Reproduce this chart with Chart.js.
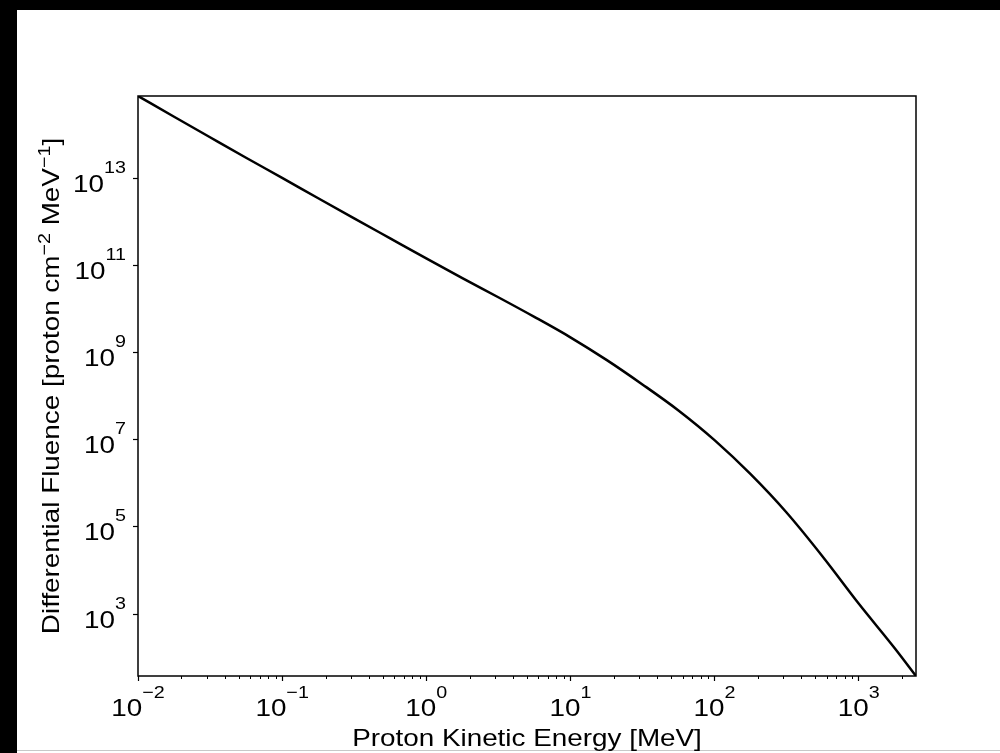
<!DOCTYPE html>
<html>
<head>
<meta charset="utf-8">
<script src="https://cdn.jsdelivr.net/npm/chart.js@4/dist/chart.umd.min.js"></script>
<style>
  html, body { margin: 0; padding: 0; background: #000; overflow: hidden; }
  #paper { position: absolute; left: 17px; top: 10px; width: 983px; height: 743px; background: #fff;
           box-shadow: -1px -1px 3px rgba(0,0,0,0.6); }
  #edge { position: absolute; left: 17px; top: 750px; width: 983px; height: 1px; background: #c8c8c8; }
  #chart { position: absolute; left: 0; top: 0; }
</style>
</head>
<body>
<div id="paper"></div>
<div id="edge"></div>
<canvas id="chart" width="1000" height="753"></canvas>
<script>
'use strict'

// values (quarter-decade steps in energy)
const energyMeV = [0.01, 0.0178, 0.0316, 0.0562, 0.1, 0.178, 0.316, 0.562, 1, 1.78, 3.16, 5.62,
                   10, 17.8, 31.6, 56.2, 100, 178, 316, 562, 1000, 1780, 2500];
const fluence = [7.7e14, 2.57e14, 8.7e13, 2.95e13, 1.02e13, 3.47e12, 1.2e12, 4.17e11, 1.45e11, 5.1e10, 1.86e10, 6.6e9,
                 2.24e9, 6.8e8, 1.86e8, 4.7e7, 9.8e6, 1.62e6, 2.14e5, 2.1e4, 1.75e3, 165, 38];

const xTickExps = [-2, -1, 0, 1, 2, 3];
const yTickExps = [3, 5, 7, 9, 11, 13];

const xTitle = 'Proton Kinetic Energy [MeV]';
// [text, isSuperscript]
const yTitle = [['Differential Fluence [proton cm', false], ['\u22122', true], [' MeV', false], ['\u22121', true], [']', false]];

const FONT = '"Liberation Sans", Arial, sans-serif';
const BIG = 24;
const SMALL = 17;
const SX = 1.16;   // the reference type is set wider than Liberation Sans

function expText(e){
    return e < 0 ? '\u2212' + Math.abs(e) : String(e);
}

function runsWidth(ctx, runs){
    let w = 0;
    runs.forEach(r=>{
        ctx.font = (r[1] ? SMALL : BIG) + 'px ' + FONT;
        w += ctx.measureText(r[0]).width * SX;
    });
    return w;
}
// draw a list of [text, sup] runs starting at x along the baseline y
function drawRuns(ctx, runs, x, y, raise){
    runs.forEach(r=>{
        ctx.font = (r[1] ? SMALL : BIG) + 'px ' + FONT;
        ctx.save();
        ctx.translate(x, r[1] ? y - raise : y);
        ctx.scale(SX, 1);
        ctx.fillText(r[0], 0, 0);
        ctx.restore();
        x += ctx.measureText(r[0]).width * SX;
    });
}

const labelPlugin = {
    id: 'labels',
    afterDraw(chart){
        const ctx = chart.ctx;
        const area = chart.chartArea;
        const xs = chart.scales.x;
        const ys = chart.scales.y;
        ctx.save();
        ctx.fillStyle = '#000';
        ctx.strokeStyle = '#000';
        ctx.textBaseline = 'alphabetic';
        ctx.textAlign = 'left';

        // frame
        ctx.lineWidth = 1.5;
        ctx.strokeRect(area.left, area.top, area.right - area.left, area.bottom - area.top);

        // minor ticks on the x axis
        ctx.lineWidth = 1;
        for (let e = -2; e <= 3; e++){
            for (let m = 2; m <= 9; m++){
                const v = m * Math.pow(10, e);
                if (v > xs.max) break;
                const px = Math.round(xs.getPixelForValue(v)) + 0.5;
                ctx.beginPath();
                ctx.moveTo(px, area.bottom);
                ctx.lineTo(px, area.bottom + 3);
                ctx.stroke();
            }
        }

        // x tick labels
        xTickExps.forEach(e=>{
            const px = xs.getPixelForValue(Math.pow(10, e));
            const runs = [['10', false], [expText(e), true]];
            const w = runsWidth(ctx, runs);
            drawRuns(ctx, runs, px - w / 2, area.bottom + 40, 18);
        });

        // y tick labels
        yTickExps.forEach(e=>{
            const py = ys.getPixelForValue(Math.pow(10, e));
            const runs = [['10', false], [expText(e), true]];
            const w = runsWidth(ctx, runs);
            drawRuns(ctx, runs, area.left - 12 - w, py + 13.5, 19);
        });

        // x title
        const xw = runsWidth(ctx, [[xTitle, false]]);
        drawRuns(ctx, [[xTitle, false]], (area.left + area.right) / 2 - xw / 2, 746, 0);

        // y title
        ctx.translate(59, (area.top + area.bottom) / 2);
        ctx.rotate(-Math.PI / 2);
        const tw = runsWidth(ctx, yTitle);
        drawRuns(ctx, yTitle, -tw / 2, 0, 9);

        ctx.restore();
    }
};

const points = energyMeV.map((e, i)=>({x: e, y: fluence[i]}));

const ctx = document.getElementById('chart').getContext('2d');
const myChart = new Chart(ctx, {
    type: 'line',
    data: {
        datasets: [{
            data: points,
            borderColor: '#000',
            borderWidth: 2.5,
            pointRadius: 0,
            fill: false,
            cubicInterpolationMode: 'monotone',
        }]
    },
    options: {
        responsive: false,
        animation: false,
        devicePixelRatio: 1,
        layout: { padding: { left: 133, top: 96, right: 84, bottom: 72 } },
        plugins: { legend: { display: false }, tooltip: { enabled: false } },
        scales: {
            x: {
                type: 'logarithmic',
                min: 0.01,
                max: 2500,
                afterBuildTicks: scale=>{
                    scale.ticks = xTickExps.map(e=>({value: Math.pow(10, e)}));
                },
                ticks: { display: false },
                border: { display: false },
                grid: { drawOnChartArea: false, drawTicks: true, tickLength: 5, tickColor: '#000', tickWidth: 1.2 },
            },
            y: {
                type: 'logarithmic',
                min: 38,
                max: 7.7e14,
                afterBuildTicks: scale=>{
                    scale.ticks = yTickExps.map(e=>({value: Math.pow(10, e)}));
                },
                ticks: { display: false },
                border: { display: false },
                grid: { drawOnChartArea: false, drawTicks: true, tickLength: 5, tickColor: '#000', tickWidth: 1.2 },
            }
        }
    },
    plugins: [labelPlugin]
});
</script>
</body>
</html>
